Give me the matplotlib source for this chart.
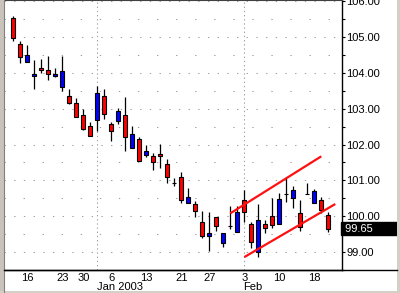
import matplotlib
matplotlib.use("Agg")
import matplotlib.pyplot as plt
import numpy as np
from matplotlib.lines import Line2D
from matplotlib.patches import Rectangle

plt.rcParams['font.family'] = ['Liberation Sans', 'DejaVu Sans']

# daily bars, Dec 2002 - Feb 2003
dates = ["2002-12-12", "2002-12-13", "2002-12-16", "2002-12-17", "2002-12-18", "2002-12-19",
         "2002-12-20", "2002-12-23", "2002-12-24", "2002-12-26", "2002-12-30", "2002-12-31",
         "2003-01-02", "2003-01-03", "2003-01-06", "2003-01-07", "2003-01-08", "2003-01-09",
         "2003-01-10", "2003-01-13", "2003-01-14", "2003-01-15", "2003-01-16", "2003-01-17",
         "2003-01-21", "2003-01-22", "2003-01-23", "2003-01-24", "2003-01-27", "2003-01-28",
         "2003-01-29", "2003-01-30", "2003-01-31", "2003-02-03", "2003-02-04", "2003-02-05",
         "2003-02-06", "2003-02-07", "2003-02-10", "2003-02-11", "2003-02-12", "2003-02-13",
         "2003-02-14", "2003-02-18", "2003-02-19", "2003-02-20"]
opens = [105.54, 104.80, 104.30, 103.92, 104.14, 104.08, 103.91, 103.59, 103.34, 103.16,
         102.83, 102.51, 102.69, 103.34, 102.58, 102.66, 102.83, 101.89, 102.14, 101.70,
         101.68, 101.73, 101.46, 100.93, 101.10, 100.37, 100.34, 99.85, 99.44, 99.98,
         99.25, 99.74, 99.57, 100.45, 99.77, 99.00, 99.77, 100.01, 99.77, 100.61,
         100.50, 100.09, 100.61, 100.37, 100.45, 100.04]
highs = [105.57, 104.89, 104.77, 104.36, 104.39, 104.47, 104.12, 104.47, 103.54, 103.30,
         102.98, 102.64, 103.64, 103.54, 102.64, 103.02, 103.32, 102.52, 102.22, 101.98,
         101.75, 102.02, 101.60, 101.07, 101.24, 100.78, 100.42, 100.14, 100.11, 99.98,
         99.52, 100.28, 100.28, 100.72, 99.85, 100.34, 99.90, 100.51, 100.64, 101.08,
         100.83, 100.45, 100.92, 100.75, 100.53, 100.12]
lows = [104.89, 104.27, 104.30, 103.56, 104.00, 103.81, 103.88, 103.50, 103.14, 102.77,
        102.40, 102.25, 102.39, 102.72, 102.11, 102.57, 101.81, 101.89, 101.54, 101.64,
        101.30, 101.34, 100.94, 100.84, 100.38, 100.37, 99.98, 99.40, 99.04, 99.60,
        99.14, 99.63, 99.57, 99.85, 99.11, 98.87, 99.52, 99.68, 99.77, 100.39,
        100.23, 99.60, 100.61, 100.37, 100.09, 99.55]
closes = [104.97, 104.44, 104.49, 103.97, 104.07, 103.96, 103.97, 104.05, 103.17, 102.77,
          102.43, 102.25, 103.45, 102.86, 102.39, 102.93, 102.22, 102.28, 101.54, 101.81,
          101.51, 101.68, 101.10, 100.93, 100.45, 100.53, 100.15, 99.45, 99.52, 99.74,
          99.52, 99.74, 100.12, 100.12, 99.27, 99.90, 99.68, 99.76, 100.48, 100.61,
          100.72, 99.71, 100.61, 100.69, 100.18, 99.65]
last_price = 99.65

# channel lines drawn on the chart: (start date, start price, end date, end price)
upper_channel = ["2003-01-30", 100.08, "2003-02-19", 101.67]
lower_channel = ["2003-02-03", 98.86, "2003-02-21", 100.34]

tick_dates = ["2002-12-16", "2002-12-23", "2002-12-30", "2003-01-06", "2003-01-13",
              "2003-01-21", "2003-01-27", "2003-02-03", "2003-02-10", "2003-02-18"]
tick_labels = ["16", "23", "30", "6", "13", "21", "27", "3", "10", "18"]
month_starts = ["2003-01-02", "2003-02-03"]
month_labels = ["Jan 2003", "Feb"]
price_ticks = [99, 100, 101, 102, 103, 104, 105, 106]


def date_pos(d):
    # position on the trading-day axis, extrapolating past the last bar
    if d in dates:
        return dates.index(d)
    return len(dates) - 1 + (np.datetime64(d) - np.datetime64(dates[-1])).astype(int)


x = np.arange(len(dates))
o = np.array(opens); c = np.array(closes)
bar_colors = ['#0000FF' if cc > oo else '#FF0000' for oo, cc in zip(o, c)]

fig = plt.figure(figsize=(4.0, 2.93), dpi=100)
ax = fig.add_axes([4 / 400, 23 / 293, 338 / 400, 270 / 293])

# grid
for lvl in np.arange(99, 106.01, 0.5):
    if lvl == int(lvl):
        ax.axhline(lvl, color='#a0a0a0', lw=0.75, ls=(0, (1.3, 8)), zorder=0)
    else:
        ax.axhline(lvl, color='#a0a0a0', lw=0.75, ls=(0, (1.3, 17)), zorder=0)
for m in month_starts:
    ax.axvline(date_pos(m), color='#a0a0a0', lw=0.75, ls=(0, (1.3, 2.7)), zorder=0)

# candles
ax.vlines(x, lows, highs, color='black', lw=0.9, zorder=2)
ax.bar(x, c - o, bottom=o, width=0.62, color=bar_colors, edgecolor='black',
       linewidth=0.8, zorder=3)

# channel
for ln in (upper_channel, lower_channel):
    ax.plot([date_pos(ln[0]), date_pos(ln[2])], [ln[1], ln[3]], color='#ff1010',
            lw=1.6, solid_capstyle='butt', zorder=4, clip_on=False)

ax.set_xlim(-1.33, 46.96)
ax.set_ylim(98.65, 106.03)

ax.yaxis.tick_right()
ax.set_yticks(price_ticks)
ax.set_yticklabels([f"{p:.2f}" for p in price_ticks])
ax.set_yticks(np.arange(98.5, 106.1, 0.5), minor=True)
ax.tick_params(axis='y', which='both', direction='out', length=2, width=0.8,
               pad=1, labelsize=8, colors='black')
ax.set_xticks([date_pos(d) for d in tick_dates])
ax.set_xticklabels(tick_labels)
ax.tick_params(axis='x', length=0, pad=2, labelsize=8)
for m, lab in zip(month_starts, month_labels):
    ax.text(date_pos(m) - 0.1, -0.064, lab, transform=ax.get_xaxis_transform(),
            ha='left', va='center', fontsize=8)

ax.spines['left'].set_visible(False)
ax.spines['top'].set_color('#404040')
ax.spines['right'].set_linewidth(1.0)
ax.spines['bottom'].set_linewidth(1.0)

# last price box
ax.text(1.0, last_price, " " + f"{last_price:.2f}" + "         ", transform=ax.get_yaxis_transform(),
        ha='left', va='center', fontsize=8, color='white',
        bbox=dict(boxstyle='square,pad=0.12', fc='black', ec='black'))

# frame
fig.add_artist(Rectangle((0, 0), 4 / 400, 1, transform=fig.transFigure,
                         fc='#c8c4bc', ec='none'))
fig.add_artist(Line2D([3.5 / 400, 3.5 / 400], [0, 1], transform=fig.transFigure,
                      color='#808080', lw=0.8))
fig.add_artist(Line2D([4 / 400, 397 / 400], [23 / 293, 23 / 293], transform=fig.transFigure,
                      color='black', lw=1.0))
fig.add_artist(Rectangle((0, 0), 1, 2 / 293, transform=fig.transFigure,
                         fc='#d4d0c8', ec='none'))
fig.add_artist(Rectangle((397 / 400, 0), 3 / 400, 1, transform=fig.transFigure,
                         fc='#d4d0c8', ec='none'))

fig.savefig('out.png', dpi=100)
